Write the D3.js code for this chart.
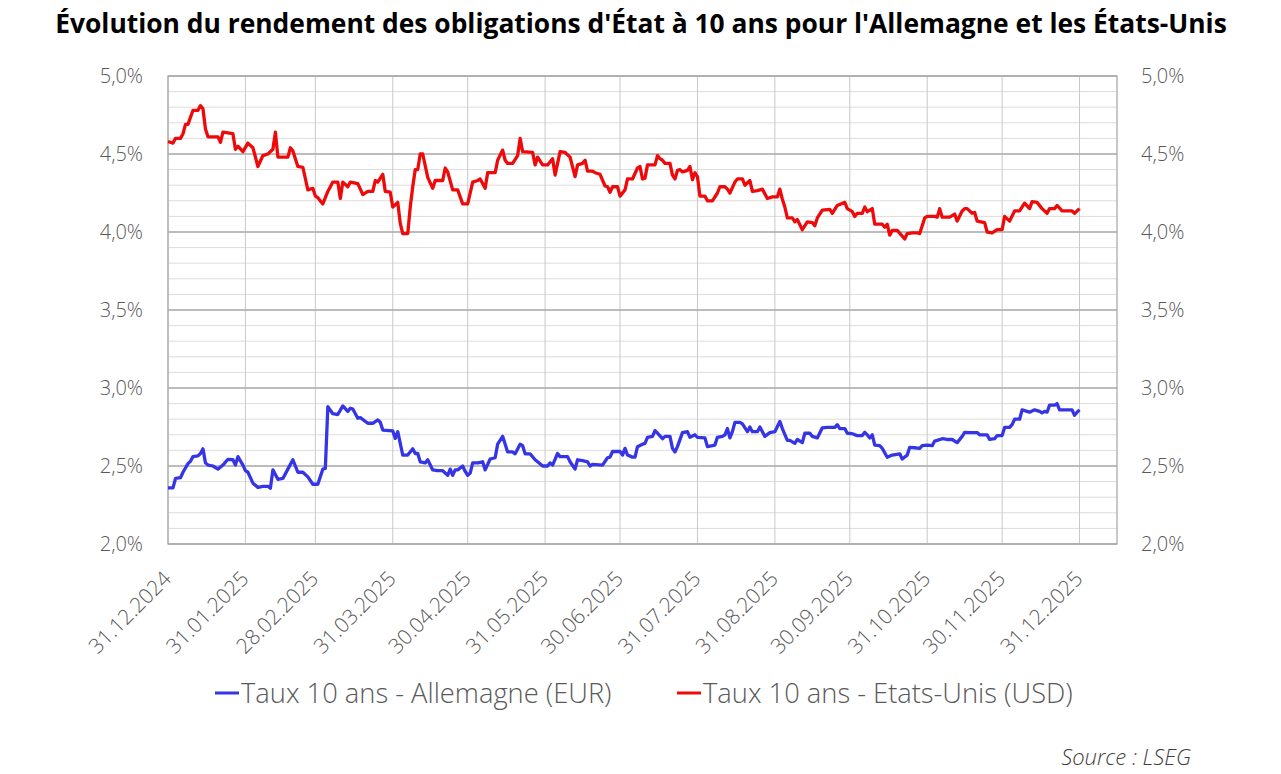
<!DOCTYPE html>
<html>
<head>
<meta charset="utf-8">
<script src="https://cdn.jsdelivr.net/npm/d3@7"></script>
<style>
  body { margin: 0; background: #fff; }
  svg { display: block; }
  text { font-family: "Open Sans", "Segoe UI", sans-serif; }
</style>
</head>
<body>
<svg id="svg" width="1281" height="774"></svg>
<script>

/**
 * DATA
 */
var title = "Évolution du rendement des obligations d'État à 10 ans pour l'Allemagne et les États-Unis";
var seriesNames = ["Taux 10 ans - Allemagne (EUR)", "Taux 10 ans - Etats-Unis (USD)"];
var startDate = "2024-12-31";
var endDate = "2026-01-15";
var tickDates = ["2024-12-31", "2025-01-31", "2025-02-28", "2025-03-31", "2025-04-30", "2025-05-31",
                 "2025-06-30", "2025-07-31", "2025-08-31", "2025-09-30", "2025-10-31", "2025-11-30", "2025-12-31"];
var yTicks = [2.0, 2.5, 3.0, 3.5, 4.0, 4.5, 5.0];

// days since 31.12.2024 / yield in %
var deDays = [0,2,3,5,6,8,9,10,12,13,14,15,16,18,20,22,24,26,27,28,30,31,32,34,36,38,40,41,42,44,46,48,50,52,54,56,58,60,62,63,
  64,66,68,70,72,73,74,76,77,80,82,84,85,86,90,91,92,94,96,98,99,100,101,103,104,106,108,110,112,113,114,115,116,118,119,120,121,
  122,124,126,127,129,131,132,134,136,138,139,141,142,143,145,147,148,150,152,153,154,156,157,160,161,163,164,166,168,169,170,174,
  176,177,178,181,182,183,184,186,187,188,190,191,192,194,195,196,198,199,201,202,203,204,206,208,209,211,212,215,216,218,219,220,
  222,223,224,225,226,227,229,230,232,233,234,236,237,239,241,243,245,246,248,249,251,252,254,255,257,258,260,262,264,267,268,269,
  271,272,274,276,278,279,280,281,282,283,285,286,288,290,293,294,296,297,299,301,302,304,306,307,308,310,312,314,316,318,319,321,
  324,325,328,329,331,332,334,335,337,338,339,341,342,344,345,347,349,350,351,352,353,355,356,357,359,362,363,364,365];
var deYield = [2.36,2.36,2.42,2.425,2.46,2.515,2.53,2.56,2.565,2.58,2.61,2.52,2.506,2.50,2.48,2.506,2.543,2.54,2.506,2.56,2.506,2.47,
  2.46,2.39,2.363,2.37,2.37,2.357,2.475,2.415,2.42,2.48,2.54,2.46,2.46,2.43,2.383,2.383,2.48,2.485,
  2.88,2.835,2.83,2.885,2.85,2.87,2.865,2.806,2.81,2.774,2.774,2.795,2.78,2.73,2.725,2.677,2.72,2.57,2.57,2.61,2.58,2.58,2.527,2.52,
  2.54,2.475,2.47,2.47,2.44,2.48,2.44,2.475,2.475,2.50,2.465,2.44,2.455,
  2.52,2.52,2.527,2.475,2.545,2.553,2.64,2.69,2.59,2.59,2.578,2.64,2.63,2.578,2.578,2.54,2.527,2.50,2.50,2.52,2.506,2.58,2.56,2.56,
  2.527,2.48,2.54,2.535,2.527,2.50,2.51,2.506,
  2.553,2.557,2.593,2.593,2.57,2.613,2.57,2.557,2.557,2.624,2.64,2.645,2.684,2.69,2.727,2.71,2.675,2.69,2.69,2.613,2.59,2.624,2.714,
  2.72,2.684,2.70,2.684,2.68,2.624,2.63,2.634,2.684,
  2.69,2.70,2.74,2.68,2.72,2.78,2.78,2.77,2.72,2.75,2.72,2.72,2.75,2.69,2.714,2.72,2.786,2.74,2.664,2.664,2.645,2.67,2.65,2.71,2.71,
  2.69,2.68,2.745,2.747,2.747,2.765,2.74,
  2.74,2.71,2.707,2.695,2.695,2.716,2.70,2.68,2.70,2.634,2.63,2.613,2.556,2.57,2.578,2.545,2.57,2.62,2.617,2.613,2.63,2.634,2.63,
  2.66,2.664,2.675,2.67,2.67,2.65,2.69,2.716,2.714,
  2.714,2.70,2.70,2.67,2.675,2.695,2.695,2.747,2.747,2.765,2.80,2.80,2.86,2.85,2.845,2.86,2.85,2.84,2.85,2.845,2.89,2.89,2.90,2.86,
  2.86,2.86,2.825,2.845,2.86];

var usDays = [0,2,3,5,6,7,8,10,12,13,14,15,16,20,21,22,26,27,28,30,32,34,36,38,40,42,43,44,48,49,50,52,54,56,58,59,60,62,64,66,68,
  69,70,72,73,76,78,80,82,83,84,86,87,89,90,92,93,94,96,97,98,99,100,101,102,104,106,107,110,111,112,114,116,118,120,122,124,125,
  127,128,131,132,134,135,136,138,140,141,142,146,147,148,150,152,154,155,157,159,161,163,164,166,167,168,170,171,173,175,176,177,
  178,180,181,183,184,186,188,189,190,191,192,195,196,197,198,199,201,202,203,204,205,206,208,209,210,211,212,213,215,216,218,220,
  221,223,224,225,227,228,230,231,233,234,236,238,240,242,244,245,246,247,248,250,251,252,254,256,258,259,260,262,265,266,268,271,
  272,274,275,276,278,279,280,282,283,286,287,288,289,290,292,295,296,298,300,301,303,304,307,308,309,310,313,315,316,318,319,320,
  322,323,324,327,328,330,332,334,335,337,339,341,343,345,346,348,350,352,353,355,356,358,362,363,365];
var usYield = [4.58,4.57,4.60,4.60,4.63,4.69,4.69,4.78,4.78,4.81,4.79,4.66,4.61,4.61,4.575,4.64,4.63,4.53,4.55,4.515,4.57,4.54,4.42,
  4.49,4.50,4.53,4.64,4.48,4.48,4.54,4.52,4.42,4.415,4.27,4.28,4.23,4.22,4.18,4.26,4.32,4.32,
  4.215,4.32,4.29,4.32,4.31,4.24,4.26,4.26,4.33,4.32,4.37,4.26,4.255,4.16,4.19,4.055,3.99,3.99,4.16,4.29,4.40,4.40,4.50,4.50,4.35,
  4.28,4.33,4.33,4.41,4.385,4.27,4.27,4.18,4.18,4.32,4.33,4.34,
  4.28,4.38,4.38,4.46,4.525,4.46,4.44,4.44,4.49,4.60,4.515,4.51,4.43,4.48,4.43,4.43,4.47,4.365,4.515,4.51,4.48,4.355,4.43,4.44,4.46,
  4.39,4.39,4.38,4.37,4.295,4.29,4.255,
  4.29,4.29,4.23,4.27,4.34,4.34,4.41,4.42,4.34,4.345,4.43,4.43,4.49,4.47,4.46,4.44,4.44,4.365,4.34,4.395,4.40,4.385,4.395,4.42,4.335,
  4.38,4.355,4.23,4.23,4.20,4.20,4.25,
  4.29,4.29,4.275,4.25,4.32,4.34,4.34,4.30,4.33,4.26,4.265,4.275,4.215,4.225,4.225,4.275,4.21,4.16,4.09,4.09,4.065,4.08,4.015,4.065,
  4.06,4.04,4.09,4.14,4.145,4.12,4.17,4.19,
  4.15,4.13,4.10,4.12,4.12,4.16,4.13,4.15,4.05,4.05,4.03,4.05,3.98,4.01,4.01,3.955,3.99,3.995,3.995,3.99,4.09,4.10,4.10,4.095,4.15,
  4.095,4.095,4.115,4.07,4.135,4.15,4.15,
  4.12,4.125,4.07,4.06,4.00,3.995,4.015,4.015,4.10,4.07,4.135,4.135,4.185,4.15,4.195,4.19,4.15,4.12,4.15,4.15,4.17,4.135,4.135,4.12,4.15];

var colors = ["#3535e6", "#ee0a0a"];


/**
 * CHART
 */
(function() {
    var svg = d3.select("#svg");
    var parse = d3.timeParse("%Y-%m-%d");
    var t0 = parse(startDate);

    var mLeft = 168, mRight = 1117, mTop = 76, mBottom = 544;

    var x = d3.scaleTime().domain([t0, parse(endDate)]).range([mLeft, mRight]);
    var y = d3.scaleLinear().domain([2, 5]).range([mBottom, mTop]);

    function toPoints(days, vals) {
        return days.map(function(d, i) { return { date: d3.timeDay.offset(t0, d), v: vals[i] }; });
    }

    // title
    svg.append("text")
        .attr("x", 641).attr("y", 33)
        .attr("text-anchor", "middle")
        .style("font-size", "26.4px").style("font-weight", 700).style("fill", "#000")
        .text(title);

    // minor grid every 0.1
    var minor = d3.range(20, 51).map(function(v) { return v / 10; });
    svg.append("g").selectAll("line").data(minor).enter().append("line")
        .attr("x1", mLeft).attr("x2", mRight)
        .attr("y1", function(d) { return y(d); }).attr("y2", function(d) { return y(d); })
        .attr("stroke", "#dcdcdc").attr("stroke-width", 1);

    // vertical grid
    var ticks = tickDates.map(parse);
    svg.append("g").selectAll("line").data(ticks).enter().append("line")
        .attr("x1", function(d) { return x(d); }).attr("x2", function(d) { return x(d); })
        .attr("y1", mTop).attr("y2", mBottom)
        .attr("stroke", "#c8c8c8").attr("stroke-width", 1);

    // major grid
    svg.append("g").selectAll("line").data(yTicks).enter().append("line")
        .attr("x1", mLeft).attr("x2", mRight)
        .attr("y1", function(d) { return y(d); }).attr("y2", function(d) { return y(d); })
        .attr("stroke", "#ababab").attr("stroke-width", 1.3);

    // frame
    svg.append("rect")
        .attr("x", mLeft).attr("y", mTop).attr("width", mRight - mLeft).attr("height", mBottom - mTop)
        .attr("fill", "none").attr("stroke", "#ababab").attr("stroke-width", 1.3);

    // y axes (left and right)
    var fmt = function(d) { return d.toFixed(1).replace(".", ",") + "%"; };
    var yLeft = svg.append("g").attr("transform", "translate(" + mLeft + ",0)")
        .call(d3.axisLeft(y).tickValues(yTicks).tickFormat(fmt).tickSize(0).tickPadding(25));
    var yRight = svg.append("g").attr("transform", "translate(" + mRight + ",0)")
        .call(d3.axisRight(y).tickValues(yTicks).tickFormat(fmt).tickSize(0).tickPadding(24));
    [yLeft, yRight].forEach(function(g) {
        g.select(".domain").remove();
        g.selectAll("text").style("font-size", "20px").style("font-weight", 300).style("fill", "#595959");
    });

    // x axis
    var xAxis = svg.append("g").attr("transform", "translate(0," + mBottom + ")")
        .call(d3.axisBottom(x).tickValues(ticks).tickFormat(d3.timeFormat("%d.%m.%Y")).tickSize(0));
    xAxis.select(".domain").remove();
    xAxis.selectAll("text")
        .attr("text-anchor", "end")
        .attr("dy", 0).attr("y", 0)
        .attr("transform", "translate(4,36) rotate(-45)")
        .style("font-size", "21px").style("font-weight", 300).style("fill", "#595959");

    // lines
    var line = d3.line()
        .x(function(d) { return x(d.date); })
        .y(function(d) { return y(d.v); });

    var series = [toPoints(deDays, deYield), toPoints(usDays, usYield)];
    series.forEach(function(s, i) {
        svg.append("path").datum(s)
            .attr("d", line)
            .attr("fill", "none")
            .attr("stroke", colors[i])
            .attr("stroke-width", 3.3)
            .attr("stroke-linejoin", "round");
    });

    // legend
    var legendX = [215, 677];
    seriesNames.forEach(function(name, i) {
        var g = svg.append("g").attr("transform", "translate(" + legendX[i] + ",693)");
        g.append("line").attr("x1", 0).attr("x2", 24).attr("y1", 0).attr("y2", 0)
            .attr("stroke", colors[i]).attr("stroke-width", 3);
        g.append("text").attr("x", 26).attr("y", 10)
            .style("font-size", "27.3px").style("font-weight", 300).style("fill", "#595959")
            .text(name);
    });

    // source
    svg.append("text")
        .attr("x", 1191).attr("y", 765)
        .attr("text-anchor", "end")
        .style("font-size", "22px").style("font-weight", 300).style("font-style", "italic").style("fill", "#404040")
        .text("Source : LSEG");
})();

</script>
</body>
</html>
